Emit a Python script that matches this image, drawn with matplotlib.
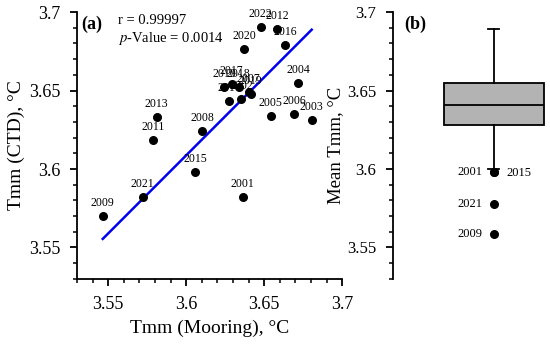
import numpy as np
import matplotlib
matplotlib.use("Agg")
import matplotlib.pyplot as plt
from matplotlib.ticker import MultipleLocator

plt.rcParams['font.family'] = ['Liberation Serif', 'DejaVu Serif']
plt.rcParams['mathtext.fontset'] = 'stix'

################################(data)################################
years = ['2001', '2002', '2003', '2004', '2005', '2006', '2007', '2008',
         '2009', '2010', '2011', '2012', '2013', '2014', '2015', '2016',
         '2017', '2018', '2019', '2020', '2021', '2022']
tmm_mooring = [3.6363, 3.6354, 3.6805, 3.6718, 3.6542, 3.6694, 3.6400, 3.6104,
               3.5465, 3.6245, 3.5786, 3.6585, 3.5811, 3.6277, 3.6057, 3.6636,
               3.6292, 3.6337, 3.6414, 3.6373, 3.5721, 3.6478]
tmm_ctd = [3.5820, 3.6445, 3.6313, 3.6550, 3.6338, 3.6349, 3.6490, 3.6245,
           3.5703, 3.6525, 3.6183, 3.6890, 3.6334, 3.6436, 3.5982, 3.6789,
           3.6542, 3.6525, 3.6478, 3.6763, 3.5824, 3.6907]

# regression line as drawn
fit_slope = 0.995
fit_intercept = 0.0267
r_text = 'r = 0.99997'
p_text = '$\\it{p}$-Value = 0.0014'

# box plot of mean Tmm
box_q1 = 3.628
box_med = 3.641
box_q3 = 3.655
box_whislo = 3.600
box_whishi = 3.689
outlier_years = ['2001', '2015', '2021', '2009']
outlier_vals = [3.598, 3.598, 3.578, 3.5585]

################################(figure)################################
fig = plt.figure(figsize=(5.5, 3.46), dpi=100)
axA = fig.add_axes([0.14, 0.194, 0.482, 0.771])
axB = fig.add_axes([0.7145, 0.194, 0.2855, 0.771])

def style_axis(ax, lsize):
    for s in ['top', 'right']:
        ax.spines[s].set_visible(False)
    for s in ['left', 'bottom']:
        ax.spines[s].set_linewidth(1.3)
    ax.tick_params(which='major', direction='out', length=5, width=1.3,
                   labelsize=lsize, pad=7)
    ax.tick_params(which='minor', direction='out', length=3, width=1.1)
    ax.yaxis.set_major_locator(MultipleLocator(0.05))
    ax.yaxis.set_minor_locator(MultipleLocator(0.01))
    ax.yaxis.set_major_formatter(plt.FuncFormatter(lambda v, p: ('%g' % round(v, 3))))
    ax.set_ylim(3.53, 3.70)

#############################(panel a)################################
style_axis(axA, 13)
axA.xaxis.set_major_locator(MultipleLocator(0.05))
axA.xaxis.set_minor_locator(MultipleLocator(0.01))
axA.xaxis.set_major_formatter(plt.FuncFormatter(lambda v, p: ('%g' % round(v, 3))))
axA.set_xlim(3.53, 3.70)

axA.scatter(tmm_mooring, tmm_ctd, s=30, color='black', zorder=3)
xl = np.array([min(tmm_mooring), max(tmm_mooring)])
axA.plot(xl, fit_slope * xl + fit_intercept, color='#0000ee', lw=1.8, zorder=2)

for yr, xv, yv in zip(years, tmm_mooring, tmm_ctd):
    axA.annotate(yr, (xv, yv), xytext=(0, 5), textcoords='offset points',
                 ha='center', va='bottom', fontsize=8.5)

axA.text(0.015, 0.955, '(a)', transform=axA.transAxes, fontsize=13,
         fontweight='bold', ha='left', va='center')
axA.text(0.155, 0.97, r_text, transform=axA.transAxes, fontsize=10.5,
         ha='left', va='center')
axA.text(0.155, 0.9, p_text, transform=axA.transAxes, fontsize=10.5,
         ha='left', va='center')
axA.set_xlabel('Tmm (Mooring), °C', fontsize=14, labelpad=5)
axA.set_ylabel('Tmm (CTD), °C', fontsize=14, labelpad=3)

#############################(panel b)################################
style_axis(axB, 12)
axB.spines['bottom'].set_visible(False)
axB.set_xlim(0, 1)

stats = [dict(q1=box_q1, med=box_med, q3=box_q3, whislo=box_whislo,
              whishi=box_whishi, fliers=[])]
axB.bxp(stats, positions=[0.643], widths=0.637, patch_artist=True,
        showfliers=False, capwidths=0.07, manage_ticks=False,
        boxprops=dict(facecolor='#b3b3b3', edgecolor='black', linewidth=1.3),
        medianprops=dict(color='black', linewidth=1.3),
        whiskerprops=dict(color='black', linewidth=1.3),
        capprops=dict(color='black', linewidth=1.3))
axB.set_xticks([])
axB.set_xlim(0, 1)
axB.scatter([0.643] * len(outlier_vals), outlier_vals, s=30, color='black', zorder=3)
for yr, v in zip(outlier_years, outlier_vals):
    if yr == '2015':
        axB.text(0.72, v - 0.0008, yr, fontsize=9, ha='left', va='center')
    else:
        axB.text(0.567, v, yr, fontsize=9, ha='right', va='center')

axB.text(0.07, 0.955, '(b)', transform=axB.transAxes, fontsize=13,
         fontweight='bold', ha='left', va='center')
axB.set_ylabel('Mean Tmm, °C', fontsize=13.5, labelpad=2)

fig.savefig('out.png', dpi=100)
